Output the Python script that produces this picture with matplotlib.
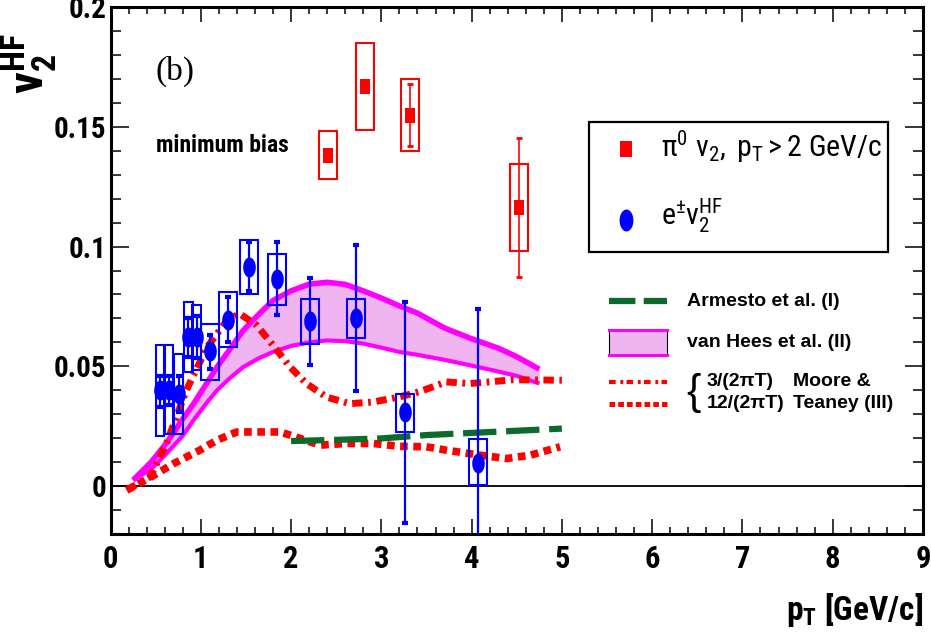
import numpy as np
import matplotlib
matplotlib.use("Agg")
import matplotlib.pyplot as plt
from matplotlib import font_manager as fm
from matplotlib.font_manager import FontProperties
from matplotlib.ticker import MultipleLocator, FixedLocator, FixedFormatter
from matplotlib.lines import Line2D
from matplotlib.patches import Rectangle

# ---------------- data ----------------
# heavy-flavour electron v2 (blue)
e_pt = [0.548, 0.648, 0.755, 0.862, 0.954, 1.10, 1.298, 1.537, 1.84, 2.209, 2.719, 3.261, 4.073]
e_v2 = [0.040, 0.040, 0.0383, 0.0622, 0.0622, 0.0564, 0.0692, 0.0914, 0.0865, 0.0689, 0.0701, 0.031, 0.0097]
e_stat_up = [0.006, 0.006, 0.0077, 0.0078, 0.0086, 0.0066, 0.0098, 0.0104, 0.0153, 0.0181, 0.0307, 0.0458, 0.0641]
e_stat_dn = [0.007, 0.006, 0.0073, 0.0082, 0.0089, 0.0074, 0.0092, 0.0101, 0.0152, 0.0185, 0.0305, 0.0466, 0.035]
e_sys_up = [0.019, 0.019, 0.0167, 0.0146, 0.0136, 0.0111, 0.0118, 0.0114, 0.0105, 0.0093, 0.0081, 0.0076, 0.0098]
e_sys_dn = [0.0192, 0.0183, 0.0166, 0.0146, 0.0136, 0.0122, 0.0112, 0.0111, 0.0107, 0.0094, 0.0083, 0.0084, 0.0093]

# pi0 v2 (red)
pi_pt = [2.412, 2.818, 3.317, 4.524]
pi_v2 = [0.1383, 0.1671, 0.155, 0.1164]
pi_stat = [0.002, 0.002, 0.013, 0.029]
pi_sys_up = [0.010, 0.018, 0.0151, 0.0181]
pi_sys_dn = [0.0101, 0.0183, 0.015, 0.0181]

# van Hees et al. (II) band
vh_pt = [0.25, 0.45, 0.62, 0.8, 0.92, 1.05, 1.18, 1.32, 1.47, 1.65, 1.8, 2.0,
         2.2, 2.4, 2.6, 2.8, 3.0, 3.2, 3.4, 3.7, 4.0, 4.3, 4.5, 4.75]
vh_upper = [0.0025, 0.010, 0.018, 0.028, 0.0344, 0.042, 0.0497, 0.057, 0.065, 0.072, 0.0775, 0.0815,
            0.0843, 0.0851, 0.0842, 0.0815, 0.0785, 0.0752, 0.0722, 0.066, 0.0615, 0.0575, 0.054, 0.0488]
vh_lower = [0.0025, 0.007, 0.0136, 0.021, 0.0275, 0.034, 0.040, 0.045, 0.0497, 0.0535, 0.056, 0.0585,
            0.060, 0.0608, 0.0605, 0.0595, 0.0578, 0.056, 0.0548, 0.0527, 0.0503, 0.0478, 0.046, 0.0428]

# Moore & Teaney (III), 3/(2 pi T)
mt3_pt = [0.18, 0.44, 0.62, 0.84, 1.07, 1.29, 1.43, 1.62, 1.8, 1.99, 2.17, 2.39, 2.65, 2.91,
          3.2, 3.43, 3.72, 3.98, 4.2, 4.46, 4.7, 5.0]
mt3_v2 = [-0.0017, 0.0039, 0.0178, 0.040, 0.058, 0.0692, 0.072, 0.0671, 0.0588, 0.0497, 0.0428,
          0.0372, 0.0344, 0.0351, 0.0372, 0.0395, 0.0435, 0.0428, 0.0435, 0.0444, 0.0443, 0.0442]

# Moore & Teaney (III), 12/(2 pi T)
mt12_pt = [0.18, 0.44, 0.7, 0.99, 1.18, 1.4, 1.62, 1.88, 2.1, 2.32, 2.62, 2.91, 3.2, 3.5,
           3.72, 4.09, 4.39, 4.65, 4.98]
mt12_v2 = [-0.0017, 0.0036, 0.0094, 0.015, 0.0192, 0.0226, 0.0226, 0.0226, 0.0199, 0.0171,
           0.0178, 0.0178, 0.0166, 0.0164, 0.015, 0.0129, 0.0115, 0.0129, 0.0164]

# Armesto et al. (I)
arm_pt = [2.0, 2.5, 3.0, 3.5, 4.0, 4.5, 5.0]
arm_v2 = [0.0188, 0.0193, 0.0199, 0.0213, 0.0222, 0.0231, 0.024]

x_ticks = [0, 1, 2, 3, 4, 5, 6, 7, 8, 9]
x_ticklabels = ["0", "1", "2", "3", "4", "5", "6", "7", "8", "9"]
y_ticks = [0, 0.05, 0.1, 0.15, 0.2]
y_ticklabels = ["0", "0.05", "0.1", "0.15", "0.2"]

# ---------------- fonts ----------------
ENTRIES = fm.fontManager.ttflist
NAMES = {f.name for f in ENTRIES}


def pick_narrow():
    for nm in ["Liberation Sans Narrow", "Roboto Condensed", "Open Sans Condensed",
               "Noto Sans Condensed", "DejaVu Sans Condensed"]:
        if nm in NAMES:
            return nm, "normal", 1.0
    for nm in ["Roboto", "Noto Sans", "Open Sans", "DejaVu Sans"]:
        for f in ENTRIES:
            if f.name == nm and str(f.stretch) in ("condensed", "semi-condensed", "extra-condensed"):
                return nm, str(f.stretch), 1.0
    return "Liberation Sans", "normal", 0.82


NARROW, STRETCH, SCALE = pick_narrow()


def NF(size, weight="normal"):
    return FontProperties(family=[NARROW, "DejaVu Sans"], stretch=STRETCH, weight=weight,
                          size=size * SCALE)


spec = NARROW if STRETCH == "normal" else NARROW + ":" + STRETCH
plt.rcParams["font.family"] = [NARROW, "DejaVu Sans"]
plt.rcParams["font.stretch"] = STRETCH
plt.rcParams["mathtext.fontset"] = "custom"
plt.rcParams["mathtext.rm"] = spec
plt.rcParams["mathtext.it"] = spec + ":italic"
plt.rcParams["mathtext.bf"] = spec + ":bold"
plt.rcParams["mathtext.sf"] = spec
plt.rcParams["lines.scale_dashes"] = False

RED = "#ff0000"
BLUE = "#0000ff"
GREEN = "#0b6b2b"
MAG = "#ff00ff"
PINK = "#f0b4f0"

ell = np.linspace(0, 2 * np.pi, 40)
ELLIPSE = list(zip(0.63 * np.cos(ell), np.sin(ell)))
RECT = [(-0.71, -1), (0.71, -1), (0.71, 1), (-0.71, 1), (-0.71, -1)]

# ---------------- figure ----------------
fig = plt.figure(figsize=(9.31, 6.37), dpi=100)
ax = fig.add_axes([0.1187, 0.1617, 0.8727, 0.8273])
ax.set_xlim(0, 9)
ax.set_ylim(-0.02, 0.2)

ax.axhline(0, color="black", lw=1.3, zorder=1)

ax.fill_between(vh_pt, vh_lower, vh_upper, color=PINK, lw=0, zorder=2)
ax.plot(vh_pt, vh_upper, color=MAG, lw=4, solid_capstyle="butt", zorder=3)
ax.plot(vh_pt, vh_lower, color=MAG, lw=3, solid_capstyle="butt", zorder=3)

ax.plot(mt3_pt, mt3_v2, color=RED, lw=5, dashes=(7.5, 4, 2, 4), dash_capstyle="butt", zorder=4)
ax.plot(mt12_pt, mt12_v2, color=RED, lw=5.5, dashes=(5.5, 4), dash_capstyle="butt", zorder=4)

ax.plot(arm_pt, arm_v2, color=GREEN, lw=4.5, dashes=(24, 7), dash_capstyle="butt", zorder=5)

e_pt_a = np.array(e_pt)
e_v2_a = np.array(e_v2)
e_box_w = np.where(e_pt_a < 1.0, 0.094, 0.2)
ax.bar(e_pt, np.array(e_sys_up) + np.array(e_sys_dn), bottom=e_v2_a - np.array(e_sys_dn),
       width=e_box_w, fill=False, edgecolor=BLUE, lw=1.5, zorder=6)
pi_v2_a = np.array(pi_v2)
ax.bar(pi_pt, np.array(pi_sys_up) + np.array(pi_sys_dn), bottom=pi_v2_a - np.array(pi_sys_dn),
       width=0.2, fill=False, edgecolor=RED, lw=1.5, zorder=6)

ax.errorbar(e_pt, e_v2, yerr=[e_stat_dn, e_stat_up], fmt="none", ecolor=BLUE, elinewidth=1.6,
            capsize=2.5, capthick=3, zorder=7)
ax.errorbar(pi_pt, pi_v2, yerr=pi_stat, fmt="none", ecolor=RED, elinewidth=1.2,
            capsize=2.5, capthick=2, zorder=7)

ax.plot(e_pt, e_v2, ls="none", marker=ELLIPSE, markersize=14.4, color=BLUE, mew=0, zorder=8)
ax.plot(pi_pt, pi_v2, ls="none", marker=RECT, markersize=10.8, color=RED, mew=0, zorder=8)

# ---------------- axes styling ----------------
for s in ax.spines.values():
    s.set_linewidth(2.2)
ax.xaxis.set_major_locator(FixedLocator(x_ticks))
ax.xaxis.set_major_formatter(FixedFormatter(x_ticklabels))
ax.yaxis.set_major_locator(FixedLocator(y_ticks))
ax.yaxis.set_major_formatter(FixedFormatter(y_ticklabels))
ax.xaxis.set_minor_locator(MultipleLocator(0.2))
ax.yaxis.set_minor_locator(MultipleLocator(0.01))
ax.tick_params(which="both", direction="in", top=True, right=True, width=1.1)
ax.tick_params(axis="x", which="major", length=11, pad=7)
ax.tick_params(axis="x", which="minor", length=5)
ax.tick_params(axis="y", which="major", length=13, pad=3)
ax.tick_params(axis="y", which="minor", length=7)
for lab in ax.get_xticklabels():
    lab.set_fontproperties(NF(22, "bold"))
for lab in ax.get_yticklabels():
    lab.set_fontproperties(NF(21, "bold"))

fig.text(0.9914, 0.027, r"$\mathbf{p_{T}}$ [GeV/c]", ha="right", va="baseline",
         fontproperties=NF(24, "bold"))
fig.text(0.063, 0.853, r"$\mathbf{v_{2}^{HF}}$", rotation=90, ha="right", va="bottom",
         fontproperties=NF(35, "bold"))

ax.text(0.0548, 0.877, "(b)", transform=ax.transAxes, fontsize=24, family="Liberation Serif",
        va="center", ha="left")
ax.text(0.056, 0.738, "minimum bias", transform=ax.transAxes, va="center", ha="left",
        fontproperties=NF(17, "bold"))

# ---------------- legend 1 (framed) ----------------
T = ax.transAxes
ax.add_patch(Rectangle((0.589, 0.535), 0.957 - 0.589, 0.782 - 0.535, transform=T,
                       fill=True, facecolor="white", edgecolor="black", lw=1.6, zorder=9))
ax.add_line(Line2D([0.6345], [0.7306], transform=T, ls="none", marker=RECT, markersize=11.3,
                   color=RED, mew=0, zorder=10))
ax.text(0.6775, 0.7154, r"$\mathrm{\pi^{0}\ v_{2},\ p_{T}} > \mathrm{2\ GeV/c}$", transform=T,
        fontproperties=NF(21.5), va="baseline", ha="left", zorder=10)
ax.add_line(Line2D([0.6345], [0.596], transform=T, ls="none", marker=ELLIPSE, markersize=15.8,
                   color=BLUE, mew=0, zorder=10))
ax.text(0.6775, 0.586, r"$\mathrm{e^{\pm}v_{2}^{HF}}$", transform=T,
        fontproperties=NF(21.5), va="baseline", ha="left", zorder=10)

# ---------------- legend 2 (no frame) ----------------
LF = FontProperties(family=["Liberation Sans", "DejaVu Sans"], weight="bold", size=14)
x0, x1, xt = 0.6135, 0.6849, 0.7095
ax.add_line(Line2D([x0, x1], [0.442, 0.442], transform=T, color=GREEN, lw=4.5,
                   dashes=(19, 6), dash_capstyle="butt"))
ax.text(xt, 0.442, "Armesto et al. (I)", transform=T, fontproperties=LF, va="center", ha="left")
ax.add_patch(Rectangle((x0, 0.3397), x1 - x0, 0.387 - 0.3397, transform=T, facecolor=PINK,
                       edgecolor="black", lw=0.8))
ax.add_line(Line2D([x0, x1], [0.387, 0.387], transform=T, color=MAG, lw=2.2))
ax.add_line(Line2D([x0, x1], [0.3397, 0.3397], transform=T, color=MAG, lw=2.2))
ax.text(xt, 0.3643, "van Hees et al. (II)", transform=T, fontproperties=LF, va="center", ha="left")
ax.add_line(Line2D([x0, x1], [0.289, 0.289], transform=T, color=RED, lw=3,
                   dashes=(4.8, 3.4, 2, 2.4), dash_capstyle="butt"))
ax.add_line(Line2D([x0, x1], [0.2467, 0.2467], transform=T, color=RED, lw=3.6,
                   dashes=(4.1, 2.2), dash_capstyle="butt"))
ax.text(0.7085, 0.2676, "{", transform=T, fontsize=31, family="Liberation Sans",
        fontweight="light", va="center", ha="left")
ax.text(0.734, 0.289, "3/(2πT)", transform=T, fontproperties=LF, va="center", ha="left")
ax.text(0.734, 0.2467, "12/(2πT)", transform=T, fontproperties=LF, va="center", ha="left")
ax.text(0.840, 0.289, "Moore &", transform=T, fontproperties=LF, va="center", ha="left")
ax.text(0.840, 0.2467, "Teaney (III)", transform=T, fontproperties=LF, va="center", ha="left")

fig.savefig("out.png", dpi=100)
